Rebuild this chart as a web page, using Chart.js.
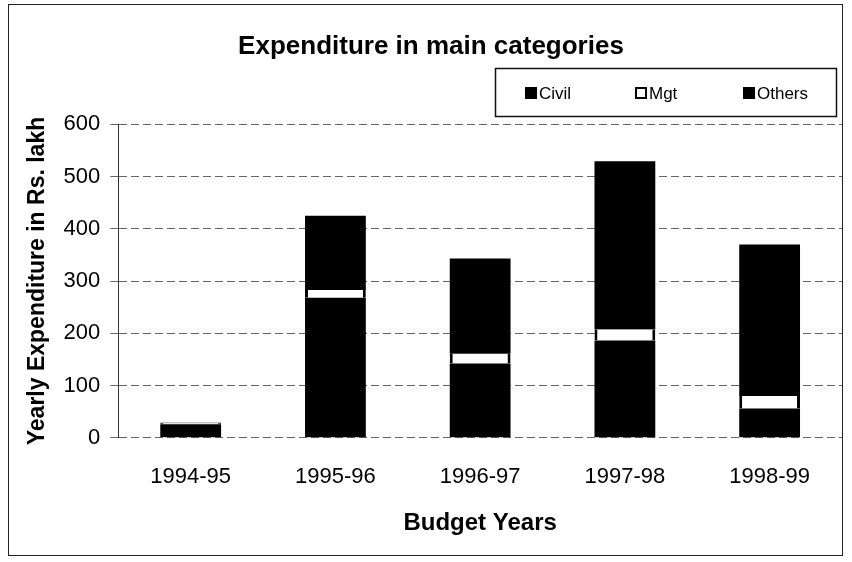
<!DOCTYPE html>
<html>
<head>
<meta charset="utf-8">
<script src="https://cdn.jsdelivr.net/npm/chart.js@4/dist/chart.umd.min.js"></script>
<style>
  body { margin: 0; background: #fff; }
  #wrap { width: 852px; height: 562px; position: relative; }
</style>
</head>
<body>
<div id="wrap"><canvas id="chart" width="852" height="562"></canvas></div>
<script>
'use strict';
//****************************
// DATA
//****************************
var years = ['1994-95', '1995-96', '1996-97', '1997-98', '1998-99'];
var civil = [26, 268, 142, 186, 56];
var mgt = [2, 15, 19, 21, 24];
var others = [1, 142, 182, 322, 290];
var yTicks = [0, 100, 200, 300, 400, 500, 600];

var fontFam = '"Liberation Sans", Arial, sans-serif';

// outer frame + boxed legend
var framePlugin = {
  id: 'frame',
  beforeDraw: function(chart) {
    var ctx = chart.ctx;
    ctx.save();
    ctx.fillStyle = '#fff';
    ctx.fillRect(0, 0, chart.width, chart.height);
    ctx.strokeStyle = '#222';
    ctx.lineWidth = 1;
    ctx.strokeRect(8.5, 4.5, 834, 551);
    ctx.restore();
  },
  afterDraw: function(chart) {
    var ctx = chart.ctx;
    ctx.save();
    ctx.strokeStyle = '#111';
    ctx.lineWidth = 1.5;
    ctx.strokeRect(495.5, 68.5, 341, 48);
    var xs = [525, 635, 743];
    ctx.font = '17px ' + fontFam;
    ctx.textBaseline = 'middle';
    chart.data.datasets.forEach(function(ds, i) {
      var x = xs[i];
      var y = 93;
      if (ds.backgroundColor === '#fff') {
        ctx.lineWidth = 2;
        ctx.strokeStyle = '#000';
        ctx.strokeRect(x + 1, y - 5, 10, 10);
      } else {
        ctx.fillStyle = '#000';
        ctx.fillRect(x, y - 6, 12, 12);
      }
      ctx.fillStyle = '#000';
      ctx.fillText(ds.label, x + 14, y + 1);
    });
    ctx.restore();
  }
};

var ctx = document.getElementById('chart').getContext('2d');
var chart = new Chart(ctx, {
  type: 'bar',
  data: {
    labels: years,
    datasets: [
      { label: 'Civil', data: civil, backgroundColor: '#000', borderWidth: 0 },
      { label: 'Mgt', data: mgt, backgroundColor: '#fff', borderColor: '#000',
        borderWidth: { left: 3, right: 3, top: 0, bottom: 0 }, borderSkipped: false },
      { label: 'Others', data: others, backgroundColor: '#000', borderWidth: 0 }
    ]
  },
  options: {
    responsive: false,
    animation: false,
    layout: { padding: { left: 20, right: 10, top: 0, bottom: 20 } },
    categoryPercentage: 0.84,
    barPercentage: 0.5,
    plugins: {
      legend: { display: false },
      tooltip: { enabled: false },
      title: {
        display: true,
        text: 'Expenditure in main categories',
        color: '#000',
        font: { family: fontFam, size: 26, weight: 'bold' },
        padding: { top: 31, bottom: 62 }
      }
    },
    scales: {
      x: {
        stacked: true,
        grid: { display: false },
        border: { display: false },
        ticks: { color: '#000', font: { family: fontFam, size: 22 }, padding: 18 },
        title: {
          display: true, text: 'Budget Years', color: '#000',
          font: { family: fontFam, size: 24, weight: 'bold' }, padding: { top: 1 }
        }
      },
      y: {
        stacked: true,
        min: 0,
        max: 600,
        afterBuildTicks: function(axis) {
          axis.ticks = yTicks.map(function(v) { return { value: v }; });
        },
        grid: { color: '#666', lineWidth: 1, tickLength: 8, drawTicks: true },
        border: { display: true, color: '#333', width: 1, dash: [8, 4] },
        ticks: { color: '#000', font: { family: fontFam, size: 22 }, padding: 10 },
        title: {
          display: true, text: 'Yearly Expenditure in Rs. lakh', color: '#000',
          font: { family: fontFam, size: 23, weight: 'bold' }, padding: { bottom: 2 }
        }
      }
    }
  },
  plugins: [framePlugin]
});
</script>
</body>
</html>
